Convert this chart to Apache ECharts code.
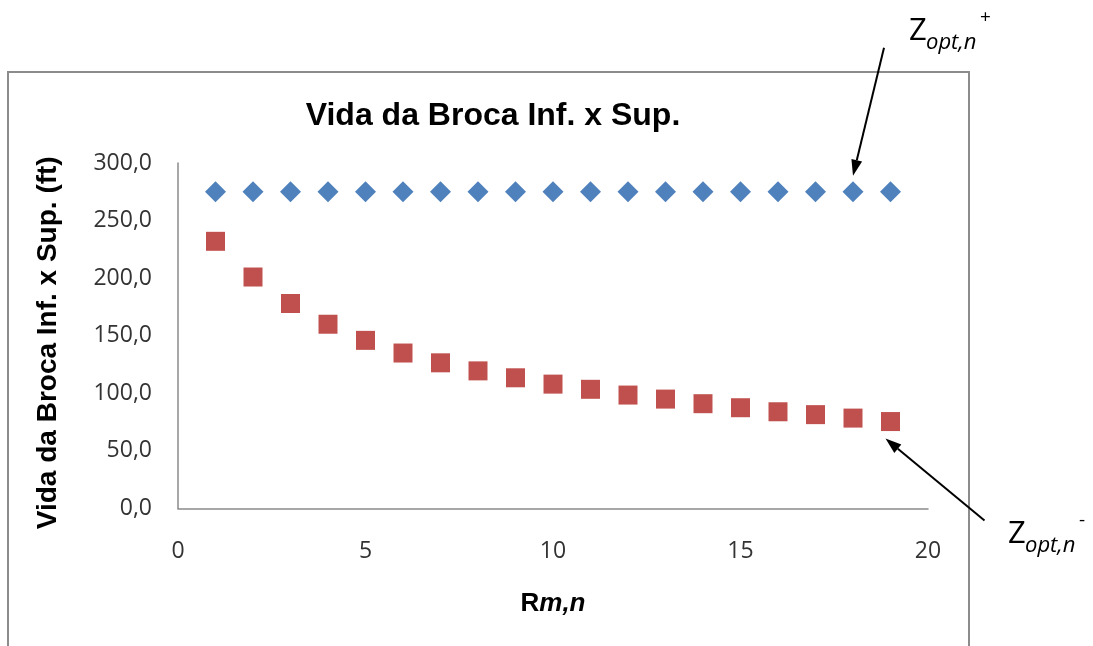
<!DOCTYPE html>
<html>
<head>
<meta charset="utf-8">
<script src="https://cdn.jsdelivr.net/npm/echarts@6/dist/echarts.min.js"></script>
<style>
html,body{margin:0;padding:0;background:#fff;}
#chart{width:1093px;height:646px;}
</style>
</head>
<body>
<div id="chart"></div>
<script>
// ---- data ----
var titleText = 'Vida da Broca Inf. x Sup.';
var yAxisName = 'Vida da Broca Inf. x Sup. (ft)';
var xValues = [1,2,3,4,5,6,7,8,9,10,11,12,13,14,15,16,17,18,19];
var upperValues = [275,275,275,275,275,275,275,275,275,275,275,275,275,275,275,275,275,275,275];
var lowerValues = [232,201,178,160,146,135,126.5,119.5,113.5,108,103.5,98.5,95,91,87.5,84,81.5,78.5,75.5];
var xMin = 0, xMax = 20, xInterval = 5;
var yMin = 0, yMax = 300, yInterval = 50;

var upperData = xValues.map(function(x,i){return [x, upperValues[i]];});
var lowerData = xValues.map(function(x,i){return [x, lowerValues[i]];});

var chart = echarts.init(document.getElementById('chart'), null, {renderer:'canvas'});
var labelFont = '"Open Sans", "Noto Sans", sans-serif';
var boldFont = '"Liberation Sans", Arial, sans-serif';

var option = {
  backgroundColor: '#ffffff',
  animation: false,
  title: {
    text: titleText,
    left: 488,
    top: 95,
    textAlign: 'center',
    textStyle: {fontFamily: boldFont, fontWeight: 'bold', fontSize: 32, color: '#000'}
  },
  grid: {left: 178, right: 165, top: 163, bottom: 137.5, containLabel: false},
  xAxis: {
    type: 'value', min: xMin, max: xMax, interval: xInterval,
    name: '{b|R}{bi|m,n}',
    nameLocation: 'middle', nameGap: 82,
    nameTextStyle: {
      rich: {
        b: {fontFamily: boldFont, fontWeight: 'bold', fontSize: 26, color: '#000'},
        bi: {fontFamily: boldFont, fontWeight: 'bold', fontStyle: 'italic', fontSize: 26, color: '#000'}
      }
    },
    axisLine: {show: true, onZero: false, lineStyle: {color: '#8a8a8a', width: 1.5}},
    axisTick: {show: false},
    splitLine: {show: false},
    axisLabel: {margin: 31, fontFamily: labelFont, fontSize: 23, color: '#333'}
  },
  yAxis: {
    type: 'value', min: yMin, max: yMax, interval: yInterval,
    name: yAxisName,
    nameLocation: 'middle', nameGap: 116, nameRotate: 90,
    nameTextStyle: {fontFamily: boldFont, fontWeight: 'bold', fontSize: 28, color: '#000', padding: [0, 14, 0, 0]},
    axisLine: {show: true, lineStyle: {color: '#8a8a8a', width: 1.5}},
    axisTick: {show: false},
    splitLine: {show: false},
    axisLabel: {
      margin: 26, fontFamily: labelFont, fontSize: 23, color: '#333',
      formatter: function(v){ return v.toFixed(1).replace('.', ','); }
    }
  },
  series: [
    {
      type: 'scatter', name: 'upper', data: upperData,
      symbol: 'diamond', symbolSize: [21, 21],
      itemStyle: {color: '#4F81BD', opacity: 1}
    },
    {
      type: 'scatter', name: 'lower', data: lowerData,
      symbol: 'rect', symbolSize: 19,
      itemStyle: {color: '#C0504D', opacity: 1}
    }
  ]
};
chart.setOption(option);

// ---- annotations (arrows anchored to data points) ----
function arrow(from, to, headLen, headW) {
  var dx = to[0]-from[0], dy = to[1]-from[1];
  var L = Math.sqrt(dx*dx+dy*dy); var ux = dx/L, uy = dy/L;
  var bx = to[0]-ux*headLen, by = to[1]-uy*headLen;
  var px = -uy, py = ux;
  return [
    {type:'line', shape:{x1:from[0], y1:from[1], x2:bx, y2:by}, style:{stroke:'#000', lineWidth:2}},
    {type:'polygon', shape:{points:[[to[0],to[1]],[bx+px*headW/2, by+py*headW/2],[bx-px*headW/2, by-py*headW/2]]}, style:{fill:'#000'}}
  ];
}
var pTop = chart.convertToPixel({gridIndex:0}, upperData[17]);
var pBot = chart.convertToPixel({gridIndex:0}, lowerData[18]);
var tipTop = [pTop[0], pTop[1]-16];
var startTop = [tipTop[0]+31, tipTop[1]-128];
var tipBot = [pBot[0]-5, pBot[1]+17];
var startBot = [tipBot[0]+99, tipBot[1]+82];

var graphics = [
  {type:'rect', shape:{x:8, y:72, width:961, height:700}, style:{fill:'none', stroke:'#8c8c8c', lineWidth:2}, silent:true}
];
graphics = graphics.concat(arrow(startTop, tipTop, 16, 11));
graphics = graphics.concat(arrow(startBot, tipBot, 16, 11));

function zLabel(x, y, sup) {
  return [
    {type:'text', left:x, top:y-14, style:{text:'Z', font:'31px ' + labelFont, fill:'#000'}},
    {type:'text', left:x+17, top:y+2, style:{text:'opt,n', font:'italic 22px ' + labelFont, fill:'#000'}},
    {type:'text', left:x+71, top:y-22, style:{text:sup, font:'19px ' + labelFont, fill:'#000'}}
  ];
}
graphics = graphics.concat(zLabel(909, 30, '+'));
graphics = graphics.concat(zLabel(1008, 533, '-'));

chart.setOption({graphic: graphics});
</script>
</body>
</html>
